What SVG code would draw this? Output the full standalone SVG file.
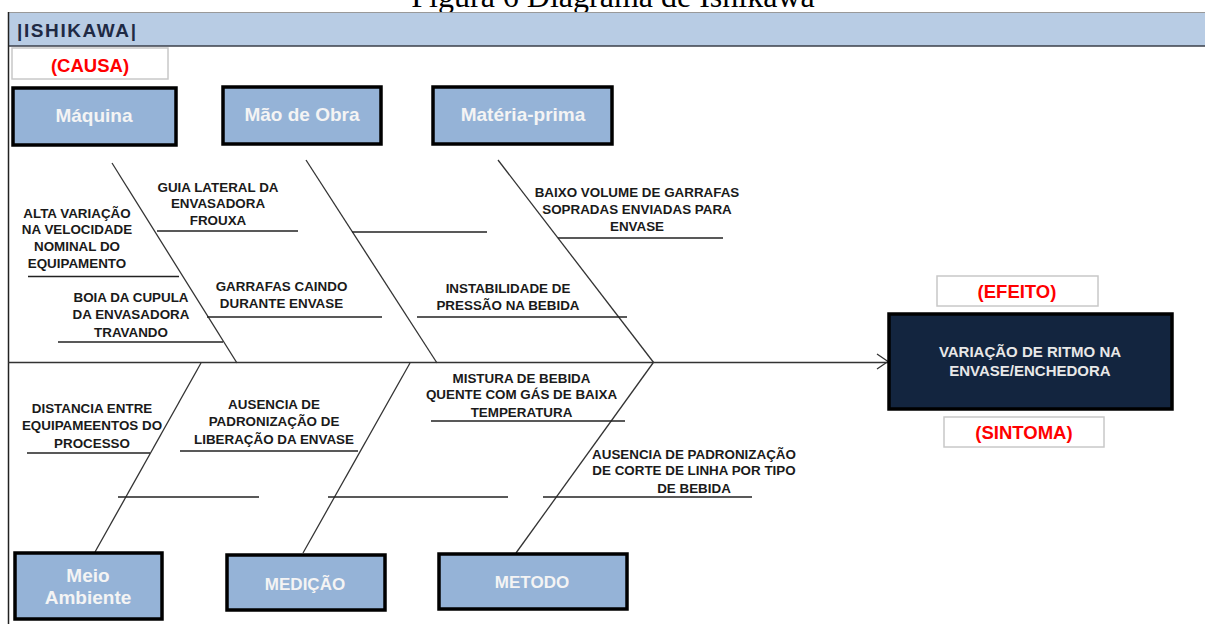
<svg xmlns="http://www.w3.org/2000/svg" width="1205" height="624" viewBox="0 0 1205 624">
<style>
.cat{fill:#95b3d7;stroke:#000;stroke-width:3.5}
.catt{font-family:"Liberation Sans",Arial,sans-serif;font-weight:bold;fill:#f4f4f4;text-anchor:middle}
.lbl{fill:#fff;stroke:#c8c8c8;stroke-width:1.5}
.red{font-family:"Liberation Sans",Arial,sans-serif;font-weight:bold;font-size:18.5px;fill:#ff0000;text-anchor:middle}
.t{font-family:"Liberation Sans",Arial,sans-serif;font-weight:bold;font-size:13.4px;fill:#1a1a1a;text-anchor:middle}
.bone{stroke:#333;stroke-width:1.3;fill:none}
.sub{stroke:#222;stroke-width:1.3;fill:none}
</style>
<rect x="0" y="0" width="1205" height="624" fill="#fff"/>
<text x="613" y="7" font-family="'Liberation Serif','Times New Roman',serif" font-size="32" fill="#000" text-anchor="middle">Figura 6 Diagrama de Ishikawa</text>
<g id="header">
<rect x="8" y="12" width="1197" height="34" fill="#b8cce4"/>
<line x1="8" y1="12.5" x2="1205" y2="12.5" stroke="#999" stroke-width="1"/>
<line x1="8" y1="46" x2="1205" y2="46" stroke="#3a3f4a" stroke-width="1.5"/>
<line x1="8.5" y1="12" x2="8.5" y2="624" stroke="#222" stroke-width="1.5"/>
<text x="17" y="37" font-family="'Liberation Sans',Arial,sans-serif" font-weight="bold" font-size="19" fill="#1f2a44" textLength="119" lengthAdjust="spacing">|ISHIKAWA|</text>
</g>
<g id="connectors">
<line class="bone" x1="8" y1="362.5" x2="888" y2="362.5" stroke-width="1.6"/>
<polyline class="bone" points="877,354 888,361.5 877,369" stroke-width="1.4"/>
<line class="bone" x1="112" y1="163" x2="237" y2="363"/>
<line class="bone" x1="306" y1="160" x2="437" y2="363"/>
<line class="bone" x1="498" y1="160" x2="654" y2="363"/>
<line class="bone" x1="95" y1="552" x2="201" y2="363"/>
<line class="bone" x1="303" y1="553" x2="410" y2="363"/>
<line class="bone" x1="516" y1="553" x2="653" y2="363"/>
<line class="sub" x1="157" y1="231" x2="298" y2="231"/>
<line class="sub" x1="28" y1="276.5" x2="179" y2="276.5"/>
<line class="sub" x1="207" y1="317" x2="382" y2="317"/>
<line class="sub" x1="58" y1="342" x2="223" y2="342"/>
<line class="sub" x1="352" y1="232" x2="487" y2="232"/>
<line class="sub" x1="417" y1="317" x2="627" y2="317"/>
<line class="sub" x1="558" y1="238" x2="723" y2="238"/>
<line class="sub" x1="27" y1="453" x2="150" y2="453"/>
<line class="sub" x1="180" y1="451" x2="358" y2="451"/>
<line class="sub" x1="118" y1="497" x2="259" y2="497"/>
<line class="sub" x1="328" y1="497" x2="508" y2="497"/>
<line class="sub" x1="431" y1="421" x2="625" y2="421"/>
<line class="sub" x1="543" y1="497" x2="752" y2="497"/>
</g>
<g id="causa">
<rect class="lbl" x="12" y="48" width="156" height="31"/>
<text class="red" x="90" y="72">(CAUSA)</text>
</g>
<g id="maquina">
<rect class="cat" x="13" y="88" width="163" height="57"/>
<text class="catt" x="94" y="122" font-size="19">Máquina</text>
</g>
<g id="mao-de-obra">
<rect class="cat" x="223" y="87" width="158" height="57"/>
<text class="catt" x="302" y="121" font-size="19">Mão de Obra</text>
</g>
<g id="materia-prima">
<rect class="cat" x="433" y="87" width="179" height="57"/>
<text class="catt" x="523" y="121" font-size="19">Matéria-prima</text>
</g>
<g id="meio-ambiente">
<rect class="cat" x="15" y="553" width="147" height="66"/>
<text class="catt" x="88" y="582" font-size="19">Meio</text>
<text class="catt" x="88" y="604" font-size="19">Ambiente</text>
</g>
<g id="medicao">
<rect class="cat" x="227" y="555" width="158" height="55"/>
<text class="catt" x="305" y="590" font-size="17">MEDIÇÃO</text>
</g>
<g id="metodo">
<rect class="cat" x="439" y="554" width="188" height="55"/>
<text class="catt" x="532" y="588" font-size="17">METODO</text>
</g>
<g id="efeito">
<rect class="lbl" x="937" y="276" width="161" height="30"/>
<text class="red" x="1017" y="298">(EFEITO)</text>
</g>
<g id="efeito-box">
<rect x="889" y="314" width="283" height="95" fill="#13253f" stroke="#000" stroke-width="3.5"/>
<text x="1030" y="357" font-family="'Liberation Sans',Arial,sans-serif" font-weight="bold" font-size="15" fill="#e8e8e8" text-anchor="middle">VARIAÇÃO DE RITMO NA</text>
<text x="1030" y="376" font-family="'Liberation Sans',Arial,sans-serif" font-weight="bold" font-size="15" fill="#e8e8e8" text-anchor="middle">ENVASE/ENCHEDORA</text>
</g>
<g id="sintoma">
<rect class="lbl" x="944" y="417" width="160" height="30"/>
<text class="red" x="1024" y="439">(SINTOMA)</text>
</g>
<g id="causa-1">
<text class="t" x="77" y="217.5">ALTA VARIAÇÃO</text>
<text class="t" x="77" y="234">NA VELOCIDADE</text>
<text class="t" x="77" y="251">NOMINAL DO</text>
<text class="t" x="77" y="268">EQUIPAMENTO</text>
</g>
<g id="causa-2">
<text class="t" x="218" y="191.5">GUIA LATERAL DA</text>
<text class="t" x="218" y="208">ENVASADORA</text>
<text class="t" x="218" y="225">FROUXA</text>
</g>
<g id="causa-3">
<text class="t" x="131" y="301.5">BOIA DA CUPULA</text>
<text class="t" x="131" y="319">DA ENVASADORA</text>
<text class="t" x="131" y="336.5">TRAVANDO</text>
</g>
<g id="causa-4">
<text class="t" x="281.5" y="290.5">GARRAFAS CAINDO</text>
<text class="t" x="281.5" y="307.5">DURANTE ENVASE</text>
</g>
<g id="causa-5">
<text class="t" x="508" y="292.5">INSTABILIDADE DE</text>
<text class="t" x="508" y="310">PRESSÃO NA BEBIDA</text>
</g>
<g id="causa-6">
<text class="t" x="637" y="196.5">BAIXO VOLUME DE GARRAFAS</text>
<text class="t" x="637" y="213.5">SOPRADAS ENVIADAS PARA</text>
<text class="t" x="637" y="230.5">ENVASE</text>
</g>
<g id="causa-7">
<text class="t" x="92" y="412.5">DISTANCIA ENTRE</text>
<text class="t" x="92" y="430">EQUIPAMEENTOS DO</text>
<text class="t" x="92" y="447.5">PROCESSO</text>
</g>
<g id="causa-8">
<text class="t" x="274" y="409">AUSENCIA DE</text>
<text class="t" x="274" y="426">PADRONIZAÇÃO DE</text>
<text class="t" x="274" y="443.5">LIBERAÇÃO DA ENVASE</text>
</g>
<g id="causa-9">
<text class="t" x="521.5" y="382.5">MISTURA DE BEBIDA</text>
<text class="t" x="521.5" y="399">QUENTE COM GÁS DE BAIXA</text>
<text class="t" x="521.5" y="416.5">TEMPERATURA</text>
</g>
<g id="causa-10">
<text class="t" x="694" y="458.5">AUSENCIA DE PADRONIZAÇÃO</text>
<text class="t" x="694" y="475">DE CORTE DE LINHA POR TIPO</text>
<text class="t" x="694" y="492.5">DE BEBIDA</text>
</g>
</svg>
